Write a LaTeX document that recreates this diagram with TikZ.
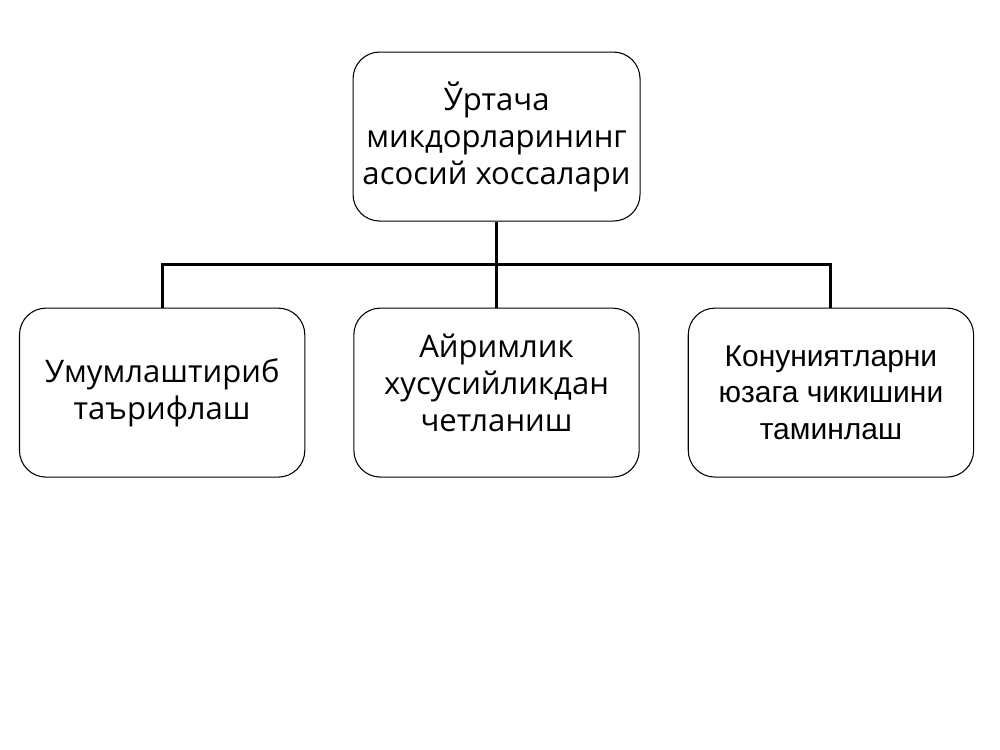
\documentclass[tikz,border=0pt]{standalone}
\usepackage{fontspec}
\setmainfont{Open Sans}
\newfontfamily\arialfont{Liberation Sans}
\usetikzlibrary{positioning}

\tikzset{
  box/.style={draw, rounded corners=20pt, thick, align=center,
    minimum width=214pt, minimum height=126.75pt, inner sep=2pt,
    font=\fontsize{23.3}{27.7}\selectfont},
  link/.style={line width=2.25pt}
}

\begin{document}
\begin{tikzpicture}[node distance=64.5pt and 36pt]
  \useasboundingbox (0,0) rectangle (750pt,-562.5pt);
   \node[box, minimum width=215.25pt] (0) at (372.4pt,-102.4pt) {Ўртача\\ микдорларининг\\асосий хоссалари};
   \node[box] (2) [below=of 0] {Айримлик\\хусусийликдан\\четланиш\\[-0.55em]\mbox{}};
   \node[box] (1) [left=of 2] {Умумлаштириб\\таърифлаш};
   \node[box, font=\arialfont\fontsize{22.5}{27.4}\selectfont] (3) [right=of 2] {Конуниятларни\\юзага чикишини\\таминлаш};
   \coordinate[below=32.25pt of 0.south] (bar);

  \draw[link] (0.south) -- (2.north);
  \draw[link] (1.north) |- (bar) -| (3.north);

\end{tikzpicture}
\end{document}
